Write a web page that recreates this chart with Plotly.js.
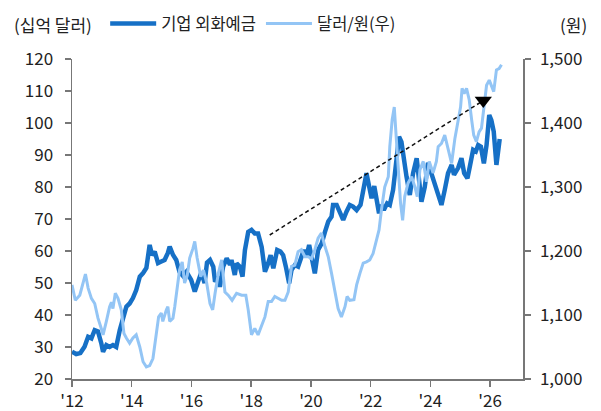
<!DOCTYPE html>
<html>
<head>
<meta charset="utf-8">
<script src="https://cdn.plot.ly/plotly-3.0.1.min.js"></script>
<style>html,body{margin:0;padding:0;background:#fff;}#chart{width:601px;height:411px;}</style>
</head>
<body>
<div id="chart"></div>
<script>
// 기업 외화예금 (십억 달러, left axis)
const depX = [2012.0,2012.14,2012.28,2012.42,2012.54,2012.65,2012.76,2012.87,2012.98,2013.04,2013.15,2013.26,2013.37,2013.48,2013.6,2013.71,2013.82,2013.93,2014.04,2014.15,2014.27,2014.38,2014.49,2014.6,2014.68,2014.77,2014.88,2014.99,2015.1,2015.21,2015.27,2015.38,2015.49,2015.6,2015.71,2015.83,2015.99,2016.11,2016.22,2016.33,2016.44,2016.52,2016.62,2016.73,2016.79,2016.9,2016.95,2017.06,2017.18,2017.29,2017.34,2017.45,2017.51,2017.62,2017.71,2017.79,2017.9,2018.01,2018.12,2018.23,2018.35,2018.46,2018.57,2018.65,2018.74,2018.87,2018.98,2019.07,2019.16,2019.27,2019.35,2019.46,2019.57,2019.69,2019.76,2019.85,2019.94,2020.02,2020.13,2020.24,2020.36,2020.47,2020.58,2020.69,2020.74,2020.86,2020.97,2021.08,2021.19,2021.3,2021.41,2021.53,2021.66,2021.75,2021.86,2021.95,2022.03,2022.12,2022.2,2022.28,2022.36,2022.44,2022.55,2022.64,2022.75,2022.87,2022.95,2023.03,2023.11,2023.2,2023.31,2023.42,2023.54,2023.65,2023.7,2023.81,2023.92,2024.04,2024.15,2024.26,2024.37,2024.48,2024.59,2024.71,2024.79,2024.93,2025.04,2025.13,2025.24,2025.32,2025.43,2025.52,2025.6,2025.69,2025.79,2025.88,2025.97,2026.04,2026.12,2026.21,2026.29,2026.32];
const depY = [28.5,27.8,28.1,30.1,33.2,32.7,35.3,34.9,31.2,28.5,30.6,30.0,30.6,30.0,35.3,39.5,42.6,43.6,45.3,47.8,52,53.1,54.7,61.9,58.7,59.8,56.2,56.7,57.2,59.4,61.4,58.8,57.2,53.5,52.3,53.5,51,47.3,50.5,53.4,50,56.4,57.2,55.1,50.4,51.9,48.8,55.1,57.7,55.7,57.2,52.5,56.1,55.1,52,60.3,66,66.6,65.5,65.5,61.3,53.5,56.2,58.7,54.6,60.3,59.8,58.7,55.1,49.9,54.1,55.6,55.1,58.7,60.3,58.2,61.9,58.2,53,60.3,62.4,66,69.2,70.7,74.4,74.4,71.8,69.7,72.3,74.4,73.9,72.8,74.4,79.1,84.3,80.1,76.5,80.3,75.9,71.8,74.4,72.8,74.9,74.4,79.1,89.5,95.7,94.1,88.4,83.2,77.5,84.3,89,80.5,75.4,80,87.6,84,80.5,78,74.4,79.1,84.3,86.9,83.8,86,89,84.3,82.7,86.4,91.6,91.1,93.1,92.6,87.4,93.1,102.5,100.9,97.3,86.9,94.2,95];

// 달러/원 (원, right axis)
const fxX = [2012.0,2012.11,2012.26,2012.37,2012.45,2012.54,2012.65,2012.76,2012.87,2012.98,2013.04,2013.15,2013.26,2013.32,2013.37,2013.45,2013.54,2013.65,2013.74,2013.82,2013.93,2014.04,2014.15,2014.27,2014.38,2014.49,2014.6,2014.71,2014.82,2014.9,2014.99,2015.04,2015.16,2015.21,2015.27,2015.38,2015.44,2015.52,2015.6,2015.69,2015.77,2015.86,2015.94,2016.05,2016.11,2016.19,2016.31,2016.4,2016.51,2016.62,2016.71,2016.79,2016.9,2017.01,2017.12,2017.23,2017.36,2017.51,2017.68,2017.82,2017.9,2018.01,2018.12,2018.23,2018.35,2018.46,2018.57,2018.68,2018.79,2018.9,2019.02,2019.13,2019.24,2019.35,2019.46,2019.57,2019.68,2019.8,2019.91,2020.02,2020.13,2020.24,2020.35,2020.47,2020.58,2020.69,2020.8,2020.91,2021.02,2021.14,2021.21,2021.3,2021.44,2021.53,2021.64,2021.75,2021.86,2021.97,2022.08,2022.2,2022.28,2022.36,2022.47,2022.59,2022.64,2022.72,2022.79,2022.84,2022.92,2023.0,2023.07,2023.14,2023.25,2023.37,2023.48,2023.56,2023.65,2023.76,2023.87,2023.96,2024.09,2024.2,2024.26,2024.37,2024.48,2024.59,2024.71,2024.82,2024.93,2025.01,2025.06,2025.13,2025.21,2025.3,2025.38,2025.45,2025.54,2025.63,2025.71,2025.79,2025.88,2025.97,2026.04,2026.12,2026.21,2026.3,2026.38];
const fxY = [1147,1123,1131,1152,1164,1142,1126,1118,1095,1079,1069,1090,1113,1120,1110,1134,1126,1108,1071,1064,1056,1064,1069,1050,1027,1019,1021,1032,1071,1097,1103,1090,1108,1113,1090,1095,1113,1144,1170,1183,1150,1162,1189,1204,1215,1189,1160,1170,1150,1118,1108,1134,1165,1186,1136,1131,1123,1134,1131,1131,1108,1069,1079,1069,1084,1097,1121,1121,1129,1126,1123,1123,1136,1176,1178,1199,1202,1191,1191,1188,1202,1220,1228,1207,1191,1165,1139,1110,1097,1113,1129,1123,1124,1147,1165,1181,1183,1186,1196,1217,1233,1264,1300,1316,1363,1405,1425,1389,1327,1275,1248,1285,1306,1316,1300,1285,1327,1340,1308,1340,1322,1340,1363,1368,1381,1358,1337,1376,1402,1425,1454,1446,1454,1436,1405,1381,1371,1386,1392,1423,1459,1467,1457,1449,1483,1485,1491];

// dashed trend arrow (right-axis units)
const arrowX = [2018.62, 2025.77];
const arrowY = [1225, 1435];

const tickYears = [2012,2014,2016,2018,2020,2022,2024,2026];
const tickText = ["'12","'14","'16","'18","'20","'22","'24","'26"];

const FONT = '"Noto Sans CJK KR", "Noto Sans", sans-serif';
const axisColor = '#777';

const traces = [
  {x: depX, y: depY, name: '기업 외화예금', type: 'scatter', mode: 'lines',
   line: {color: '#1670c6', width: 4.5}, yaxis: 'y'},
  {x: fxX, y: fxY, name: '달러/원(우)', type: 'scatter', mode: 'lines',
   line: {color: '#93c5f5', width: 3}, yaxis: 'y2'},
  {x: arrowX, y: arrowY, type: 'scatter', mode: 'lines', showlegend: false,
   line: {color: '#111', width: 1.5, dash: '4px,3px'}, yaxis: 'y2', hoverinfo: 'skip'},
  {x: [arrowX[1]], y: [arrowY[1]], type: 'scatter', mode: 'markers', showlegend: false,
   marker: {symbol: 'triangle-down', size: 15, color: '#000'}, yaxis: 'y2', hoverinfo: 'skip'}
];

const layout = {
  width: 601, height: 411,
  margin: {l: 72, r: 78, t: 59, b: 32},
  paper_bgcolor: '#fff', plot_bgcolor: '#fff',
  font: {family: FONT, size: 17, color: '#222'},
  showlegend: true,
  legend: {orientation: 'h', xref: 'container', yref: 'container',
           x: 0.175, xanchor: 'left', y: 0.942, yanchor: 'middle',
           font: {family: FONT, size: 16.5, color: '#222'}, itemwidth: 46,
           bgcolor: 'rgba(0,0,0,0)'},
  xaxis: {range: [2012, 2027.1], tickvals: tickYears, ticktext: tickText,
          ticks: 'outside', ticklen: 6, tickcolor: axisColor, tickwidth: 1.5,
          showline: true, linecolor: axisColor, linewidth: 1.5,
          showgrid: false, zeroline: false, tickfont: {size: 17}, fixedrange: true},
  yaxis: {range: [20, 120], dtick: 10, tick0: 20, ticks: 'outside', ticklen: 6,
          tickcolor: axisColor, tickwidth: 1.5, showline: true, linecolor: axisColor,
          linewidth: 1.5, showgrid: false, zeroline: false, tickfont: {size: 17},
          ticklabelstandoff: 8},
  yaxis2: {range: [1000, 1500], dtick: 100, tick0: 1000, overlaying: 'y', side: 'right',
           tickformat: ',d', ticks: 'outside', ticklen: 6, tickcolor: axisColor, tickwidth: 1.5,
           showline: true, linecolor: axisColor, linewidth: 1.5, showgrid: false,
           zeroline: false, tickfont: {size: 17}, ticklabelstandoff: 6},
  annotations: [
    {text: '(십억 달러)', xref: 'paper', yref: 'paper', x: -0.133, y: 1.109,
     xanchor: 'left', yanchor: 'middle', showarrow: false, font: {size: 17, color: '#222'}},
    {text: '(원)', xref: 'paper', yref: 'paper', x: 1.146, y: 1.109,
     xanchor: 'right', yanchor: 'middle', showarrow: false, font: {size: 17, color: '#222'}}
  ]
};

Plotly.newPlot('chart', traces, layout, {displayModeBar: false, staticPlot: true});
</script>
</body>
</html>
